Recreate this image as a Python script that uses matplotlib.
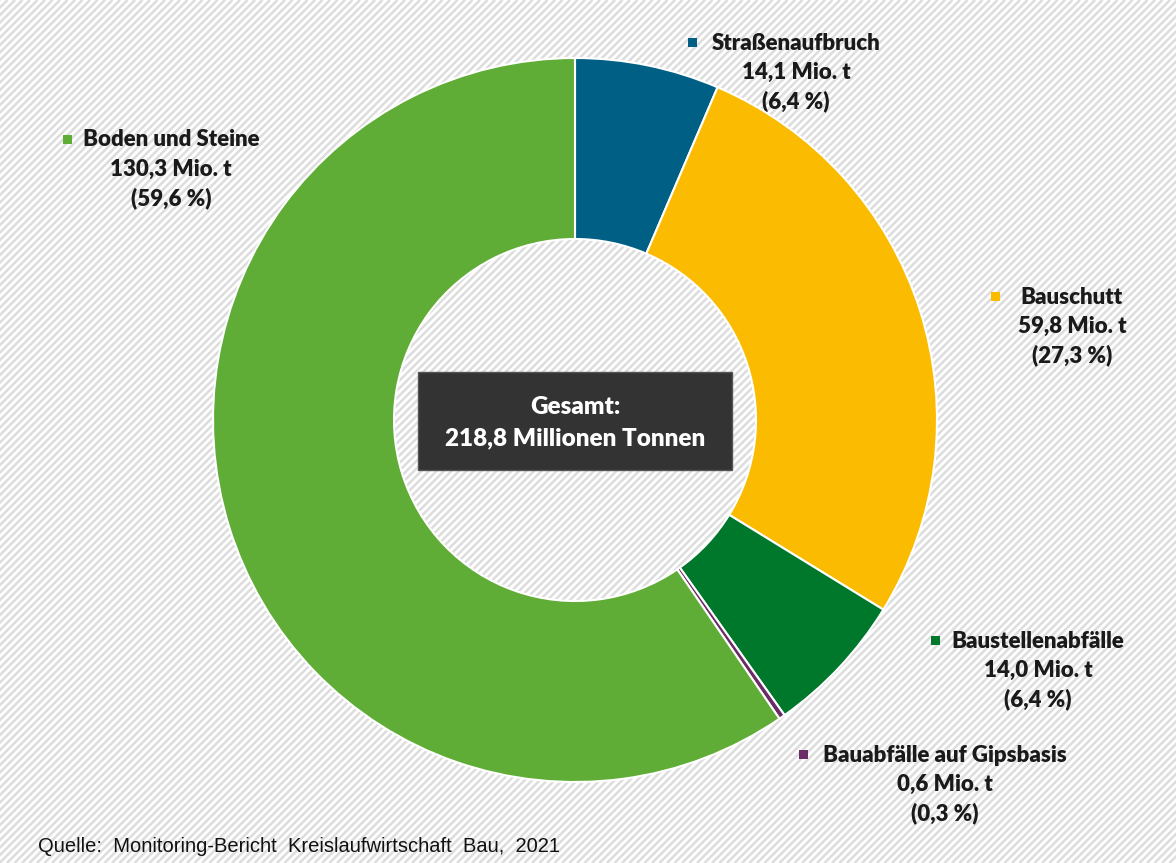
"""Donut chart of German construction waste volumes by category."""
import matplotlib.pyplot as plt
import numpy as np
from matplotlib.collections import LineCollection
from matplotlib.patches import Rectangle

categories = [
    "Straßenaufbruch",
    "Bauschutt",
    "Baustellenabfälle",
    "Bauabfälle auf Gipsbasis",
    "Boden und Steine",
]
tonnes = [14.1, 59.8, 14.0, 0.6, 130.3]
share_labels = ["6,4", "27,3", "6,4", "0,3", "59,6"]
colors = ["#005f85", "#fabb00", "#00782c", "#6a2b67", "#5fad36"]
total_label = "218,8"

# label anchors in pixels: marker x, text center x, first-line y
label_pos = [
    (692, 796, 43),
    (995, 1072, 297),
    (935, 1038, 641),
    (803, 945, 755),
    (67, 171, 140),
]

W, H = 1176, 863
fig = plt.figure(figsize=(W / 100, H / 100), dpi=100, facecolor="white")

# striped backdrop, drawn in pixel coordinates
bg = fig.add_axes([0, 0, 1, 1])
bg.set_xlim(0, W)
bg.set_ylim(H, 0)
bg.axis("off")
offsets = np.arange(0, W + H, 7.5)
stripes = [[(c, 0), (c - H, H)] for c in offsets]
bg.add_collection(LineCollection(stripes, colors="#dddddd", linewidths=1.8,
                                 zorder=0))

# donut
cx, cy, R = 575, 420, 362
span = 1.1 * R
ax = fig.add_axes([(cx - span) / W, 1 - (cy + span) / H,
                   2 * span / W, 2 * span / H])
ax.set_facecolor("none")
ax.pie(tonnes, colors=colors, startangle=90, counterclock=False,
       radius=1.0,
       wedgeprops=dict(width=0.5, edgecolor="white", linewidth=1.5))
ax.set_xlim(-1.1, 1.1)
ax.set_ylim(-1.1, 1.1)
ax.set_aspect("equal")
ax.axis("off")

font = dict(family="Lato", weight="heavy", fontsize=16, color="#1a1a1a")
for name, val, pct, col, (mx, tx, ty) in zip(
        categories, tonnes, share_labels, colors, label_pos):
    bg.add_patch(Rectangle((mx - 4.5, ty - 5), 9, 9, facecolor=col,
                           linewidth=0, zorder=2))
    bg.text(tx, ty, name, ha="center", va="center", **font)
    bg.text(tx, ty + 29, f"{val:.1f}".replace(".", ",") + " Mio. t",
            ha="center", va="center", **font)
    bg.text(tx, ty + 58, f"({pct} %)", ha="center", va="center", **font)

# total box in the hole
bg.add_patch(Rectangle((418, 372), 314, 98, facecolor="#333333",
                       edgecolor="#555555", linewidth=1, zorder=3))
bg.text(575, 407, "Gesamt:", ha="center", va="center", zorder=4,
        **{**font, "color": "white", "fontsize": 17.5})
bg.text(575, 438, f"{total_label} Millionen Tonnen", ha="center",
        va="center", zorder=4, **{**font, "color": "white", "fontsize": 17.5})
bg.set_zorder(0)
ax.set_zorder(1)

fig.text(38 / W, 1 - 846 / H,
         "Quelle:  Monitoring-Bericht  Kreislaufwirtschaft  Bau,  2021",
         ha="left", va="center", family="Liberation Sans", fontsize=14.5,
         color="#111111")

fig.savefig("out.png", dpi=100)
